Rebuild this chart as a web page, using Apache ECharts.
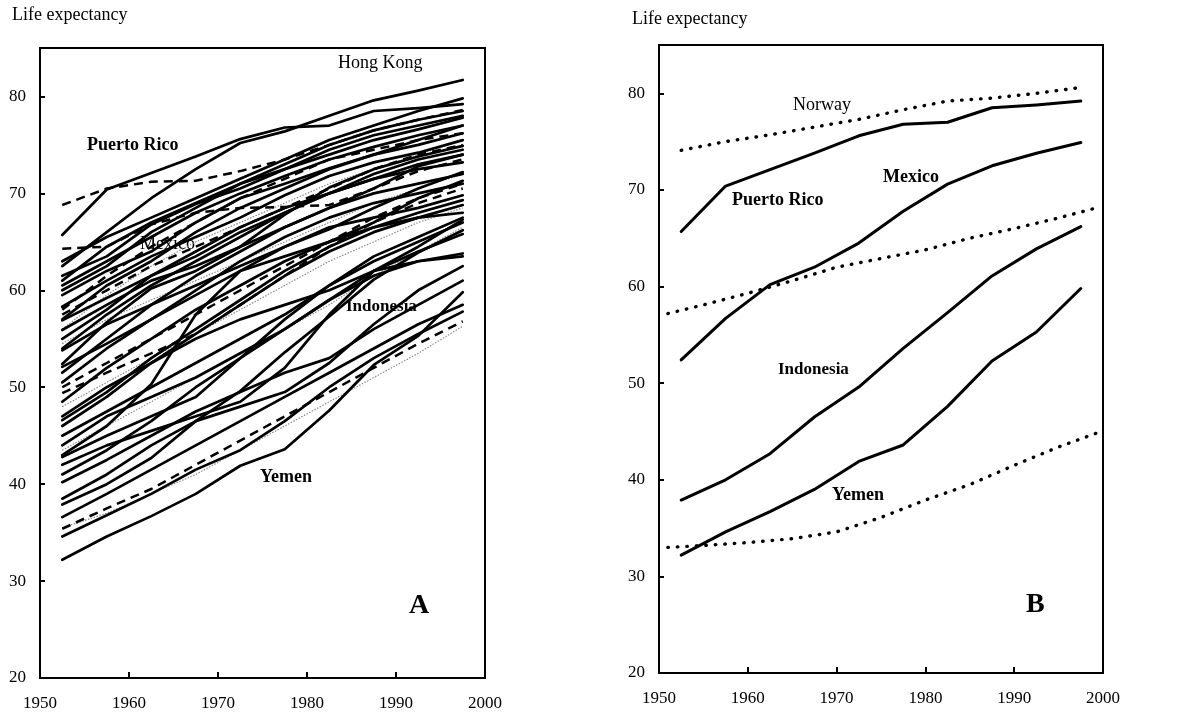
<!DOCTYPE html>
<html>
<head>
<meta charset="utf-8">
<script src="https://cdn.jsdelivr.net/npm/echarts@6/dist/echarts.min.js"></script>
<style>
html,body{margin:0;padding:0;background:#fff;}
#chart{width:1196px;height:721px;}
</style>
</head>
<body>
<div id="chart"></div>
<script>
// ---------- DATA ----------
const years = [1952.5, 1957.5, 1962.5, 1967.5, 1972.5, 1977.5, 1982.5, 1987.5, 1992.5, 1997.5];
const curveYears = [1951, 1955, 1960, 1965, 1970, 1975, 1980, 1985, 1990, 1995, 1999.5];
const xTicks = [1950, 1960, 1970, 1980, 1990, 2000];
const yTicks = [20, 30, 40, 50, 60, 70, 80];

// Highlighted countries (panel B, also drawn in panel A)
const puertoRico = [65.7, 70.4, 72.1, 73.8, 75.6, 76.8, 77.0, 78.5, 78.8, 79.2];
const mexico     = [52.4, 56.7, 60.2, 62.0, 64.5, 67.8, 70.6, 72.5, 73.8, 74.9];
const indonesia  = [37.9, 40.0, 42.7, 46.5, 49.6, 53.6, 57.3, 61.1, 63.9, 66.2];
const yemen      = [32.2, 34.6, 36.7, 39.0, 41.9, 43.6, 47.6, 52.3, 55.3, 59.8];
const hongKong   = [62.5, 66.0, 69.5, 72.5, 75.2, 76.4, 78.0, 79.6, 80.6, 81.7];

// Panel B dotted reference curves
const norway      = [74.1, 75.0, 75.7, 76.5, 77.3, 78.3, 79.2, 79.5, 80.0, 80.6];
const middleCurve = [57.2, 58.1, 59.3, 60.6, 62.0, 62.9, 63.8, 65.0, 66.0, 67.1, 68.2];
const lowerCurve  = [33.0, 33.2, 33.5, 33.9, 34.6, 36.1, 37.9, 39.5, 41.5, 43.4, 44.9];

// Panel A: other countries (solid)
const otherSolid = [
  [63.0, 65.5, 67.5, 69.5, 71.5, 73.5, 75.5, 77.0, 78.5, 79.8],
  [61.5, 63.5, 66.8, 68.9, 70.5, 72.5, 74.0, 75.5, 76.6, 77.8],
  [61.0, 64.5, 67.0, 69.0, 71.0, 72.5, 74.5, 76.0, 77.0, 78.0],
  [60.0, 62.5, 66.0, 68.5, 71.0, 73.0, 75.0, 76.5, 77.6, 78.5],
  [60.5, 63.0, 65.5, 68.0, 70.0, 71.8, 73.5, 74.8, 76.0, 77.0],
  [59.5, 62.0, 64.0, 67.0, 69.5, 71.0, 72.6, 74.0, 75.0, 76.2],
  [58.3, 61.0, 63.5, 65.5, 67.5, 69.8, 71.8, 73.2, 74.2, 75.5],
  [57.0, 60.5, 63.0, 66.0, 68.5, 70.5, 72.5, 74.0, 75.5, 77.0],
  [56.9, 59.2, 61.5, 63.5, 66.0, 68.0, 70.0, 72.0, 73.5, 74.5],
  [55.9, 58.5, 61.0, 62.5, 64.5, 66.5, 68.5, 70.5, 72.8, 74.0],
  [55.0, 58.0, 61.5, 64.0, 66.5, 68.5, 70.0, 71.5, 73.0, 74.0],
  [54.0, 57.5, 60.5, 63.0, 65.5, 68.0, 70.0, 71.5, 72.5, 73.2],
  [53.8, 56.5, 58.5, 60.5, 62.5, 64.5, 66.3, 68.5, 70.5, 72.2],
  [52.1, 54.5, 57.0, 59.5, 62.0, 63.5, 65.0, 67.0, 69.5, 71.3],
  [51.5, 55.0, 58.5, 61.5, 64.0, 66.5, 68.5, 70.0, 71.0, 72.0],
  [50.5, 54.0, 57.0, 60.0, 63.0, 65.5, 67.5, 69.0, 70.0, 71.0],
  [48.5, 52.0, 55.0, 58.0, 60.5, 63.0, 65.0, 66.5, 67.5, 68.0],
  [47.0, 50.0, 52.5, 55.0, 57.0, 58.5, 60.0, 62.0, 63.0, 63.5],
  [46.6, 49.5, 53.0, 56.0, 59.0, 62.0, 64.5, 66.5, 68.0, 69.3],
  [46.0, 49.0, 52.5, 55.5, 58.5, 61.5, 64.0, 66.0, 67.5, 68.8],
  [45.0, 47.5, 50.0, 52.5, 55.0, 57.5, 60.5, 63.5, 65.5, 67.5],
  [44.0, 47.0, 49.0, 51.0, 53.5, 56.0, 59.0, 62.0, 64.5, 67.3],
  [43.0, 46.0, 50.3, 57.5, 62.0, 64.5, 66.5, 67.5, 68.5, 69.8],
  [42.8, 45.0, 47.0, 49.0, 53.0, 57.0, 60.5, 63.0, 65.0, 67.0],
  [42.0, 44.0, 45.5, 47.0, 48.5, 52.0, 57.5, 62.0, 64.0, 65.8],
  [41.0, 43.5, 46.5, 50.0, 53.0, 56.0, 59.0, 61.5, 63.0, 63.8],
  [40.2, 42.5, 45.0, 47.5, 49.5, 51.5, 53.0, 56.0, 58.5, 61.0],
  [38.5, 41.0, 44.0, 46.5, 48.0, 49.5, 52.5, 56.5, 60.0, 62.5],
  [36.6, 39.0, 41.5, 44.0, 46.5, 49.0, 51.5, 54.0, 56.5, 58.5],
  [34.6, 36.8, 39.0, 41.5, 43.5, 46.5, 50.0, 53.0, 55.5, 57.8]
];
// Panel A: other countries (dashed)
const otherDashed = [
  [68.8, 70.5, 71.2, 71.3, 72.3, 73.5, 75.0, 76.5, 77.6, 78.6],
  [64.3, 64.5, 66.8, 68.0, 68.5, 68.6, 68.8, 70.5, 72.3, 73.5],
  [58.0, 61.5, 64.5, 67.0, 69.5, 71.5, 73.5, 74.5, 75.5, 76.2],
  [57.5, 60.0, 62.5, 64.5, 66.5, 68.5, 70.5, 72.5, 74.0, 75.0],
  [50.0, 52.5, 55.0, 57.5, 60.0, 62.5, 65.0, 67.5, 69.5, 71.0],
  [49.4, 51.5, 53.5, 55.5, 58.5, 61.5, 64.5, 67.0, 69.0, 70.5],
  [35.4, 37.5, 39.5, 42.0, 44.5, 47.0, 49.5, 52.0, 54.5, 56.8]
];
// Panel A: other countries (thin dotted)
const otherDotted = [
  [56.0, 59.5, 62.5, 65.0, 67.0, 69.0, 71.0, 72.5, 74.0, 75.5],
  [54.5, 57.0, 59.0, 61.0, 63.0, 65.0, 67.0, 69.0, 70.5, 72.0],
  [48.0, 50.5, 53.0, 55.5, 58.0, 60.5, 63.0, 65.0, 67.0, 68.5],
  [43.5, 46.0, 48.5, 51.0, 53.5, 56.0, 58.5, 61.5, 64.0, 66.5],
  [35.5, 37.0, 39.0, 41.0, 43.5, 46.0, 48.5, 51.0, 53.5, 56.3]
];

// ---------- BUILD ----------
const FONT = '"Liberation Serif", "DejaVu Serif", serif';
const pairs = (xs, vs) => vs.map((v, i) => [xs[i], v]);

function lineSeries(vals, gi, style, xs) {
  return {
    type: 'line', xAxisIndex: gi, yAxisIndex: gi,
    data: pairs(xs || years, vals),
    showSymbol: false, silent: true, animation: false,
    lineStyle: style
  };
}
const SOLID = { color: '#000', width: 2.7, type: 'solid', cap: 'round', join: 'round' };
const DASHED = { color: '#000', width: 2.5, type: [9, 6] };
const THIN_DOT = { color: '#8a8a8a', width: 1.2, type: [1.5, 1.5] };
const BIG_DOT = { color: '#000', width: 3.4, type: [0.5, 9], cap: 'round' };

const series = [];
otherDotted.forEach(v => series.push(lineSeries(v, 0, THIN_DOT)));
otherDashed.forEach(v => series.push(lineSeries(v, 0, DASHED)));
otherSolid.forEach(v => series.push(lineSeries(v, 0, SOLID)));
[hongKong, puertoRico, mexico, indonesia, yemen].forEach(v => series.push(lineSeries(v, 0, SOLID)));

[puertoRico, mexico, indonesia, yemen].forEach(v => series.push(lineSeries(v, 1, { color: '#000', width: 3, type: 'solid', cap: 'round', join: 'round' })));
series.push(lineSeries(norway, 1, BIG_DOT));
series.push(lineSeries(middleCurve, 1, BIG_DOT, curveYears));
series.push(lineSeries(lowerCurve, 1, BIG_DOT, curveYears));

function xAxis(gi) {
  return {
    type: 'value', gridIndex: gi, min: xTicks[0], max: xTicks[xTicks.length - 1], interval: 10,
    axisLine: { show: true, onZero: false, lineStyle: { color: '#000', width: 2 } },
    axisTick: { show: true, inside: true, length: 6, lineStyle: { color: '#000', width: 2 } },
    splitLine: { show: false },
    axisLabel: { color: '#000', fontFamily: FONT, fontSize: 17, margin: 17, formatter: v => String(v) }
  };
}
function yAxis(gi) {
  return {
    type: 'value', gridIndex: gi, min: yTicks[0], max: 85, interval: 10,
    axisLine: { show: true, onZero: false, lineStyle: { color: '#000', width: 2 } },
    axisTick: { show: true, inside: true, length: 5, lineStyle: { color: '#000', width: 2 } },
    splitLine: { show: false },
    axisLabel: {
      color: '#000', fontFamily: FONT, fontSize: 17, margin: 14, showMaxLabel: false,
      formatter: v => (yTicks.indexOf(v) >= 0 ? String(v) : '')
    }
  };
}

const txt = (x, y, s, size, bold, align) => ({
  type: 'text', left: x, top: y, silent: true,
  style: { text: s, fill: '#000', font: (bold ? 'bold ' : '') + size + 'px ' + FONT, textAlign: align || 'left' }
});

const option = {
  backgroundColor: '#fff',
  animation: false,
  grid: [
    { left: 40, top: 48, width: 445, height: 630, show: true, borderColor: '#000', borderWidth: 2, containLabel: false },
    { left: 659, top: 45, width: 444, height: 628, show: true, borderColor: '#000', borderWidth: 2, containLabel: false }
  ],
  xAxis: [xAxis(0), xAxis(1)],
  yAxis: [yAxis(0), yAxis(1)],
  series: series,
  graphic: [
    txt(12, 6, 'Life expectancy', 18, false),
    txt(632, 10, 'Life expectancy', 18, false),
    // Panel A labels
    txt(338, 54, 'Hong Kong', 18, false),
    txt(87, 136, 'Puerto Rico', 18, true),
    txt(140, 235, 'Mexico', 18, false),
    txt(346, 298, 'Indonesia', 17, true),
    txt(260, 468, 'Yemen', 18, true),
    txt(409, 592, 'A', 28, true),
    // Panel B labels
    txt(793, 96, 'Norway', 18, false),
    txt(883, 168, 'Mexico', 18, true),
    txt(732, 191, 'Puerto Rico', 18, true),
    txt(778, 361, 'Indonesia', 17, true),
    txt(832, 486, 'Yemen', 18, true),
    txt(1026, 591, 'B', 28, true)
  ]
};

const chart = echarts.init(document.getElementById('chart'), null, { renderer: 'canvas' });
chart.setOption(option);
</script>
</body>
</html>
